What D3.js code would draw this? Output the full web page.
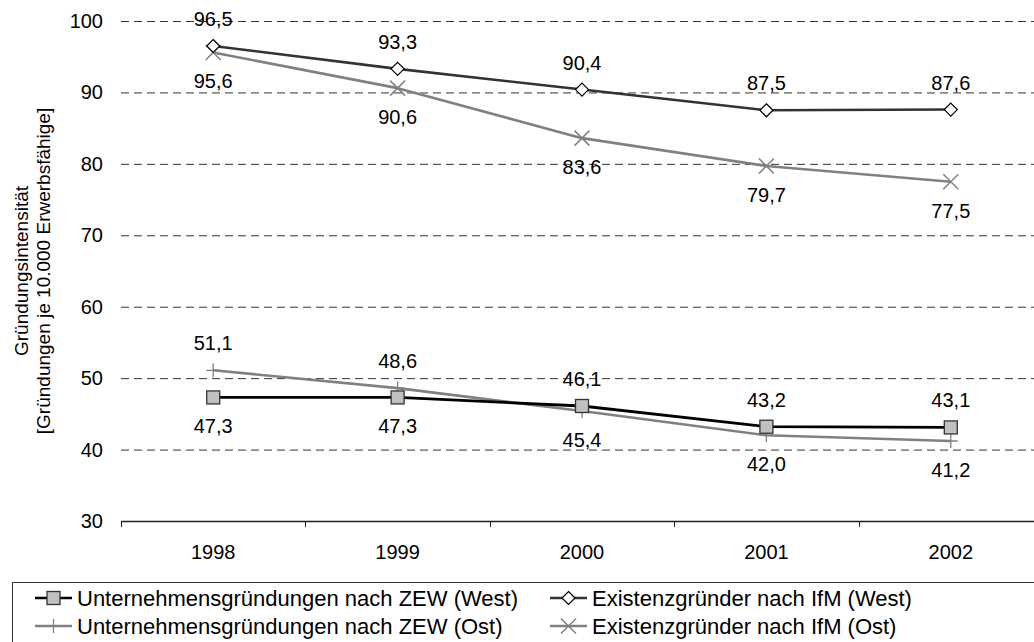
<!DOCTYPE html>
<html>
<head>
<meta charset="utf-8">
<script src="https://cdn.jsdelivr.net/npm/d3@7"></script>
<style>
  body { margin: 0; background: #fff; }
  svg { font-family: "Liberation Sans", Arial, sans-serif; }
</style>
</head>
<body>
<svg width="1034" height="642"></svg>
<script>
// data
var years = ['1998', '1999', '2000', '2001', '2002'];
var yTicks = [30, 40, 50, 60, 70, 80, 90, 100];

var zewWest = [47.3, 47.3, 46.1, 43.2, 43.1];
var zewOst = [51.1, 48.6, 45.4, 42.0, 41.2];
var ifmWest = [96.5, 93.3, 90.4, 87.5, 87.6];
var ifmOst = [95.6, 90.6, 83.6, 79.7, 77.5];

// where each value label sits relative to its point
var zewWestLabelPos = ['below', 'below', 'above', 'above', 'above'];
var zewOstLabelPos = ['above', 'above', 'below', 'below', 'below'];
var ifmWestLabelPos = ['above', 'above', 'above', 'above', 'above'];
var ifmOstLabelPos = ['below', 'below', 'below', 'below', 'below'];

var seriesNames = [
    'Unternehmensgründungen nach ZEW (West)',
    'Existenzgründer nach IfM (West)',
    'Unternehmensgründungen nach ZEW (Ost)',
    'Existenzgründer nach IfM (Ost)'
];

var svg = d3.select('svg');

var plot = {l: 121, r: 1043, t: 21, b: 521};
var numSize = 20;

var x = d3.scaleBand()
    .domain(years)
    .range([plot.l, plot.r])
    .padding(0);

var y = d3.scaleLinear()
    .domain([30, 100])
    .range([plot.b, plot.t]);

var fmt = function(v) { return d3.format('.1f')(v).replace('.', ','); };

// grid lines (dashed)
svg.append('g')
    .selectAll('line')
    .data(yTicks.filter(function(d) { return d > 30; }))
    .enter()
    .append('line')
    .attr('x1', plot.l)
    .attr('x2', plot.r)
    .attr('y1', function(d) { return y(d) + 0.5; })
    .attr('y2', function(d) { return y(d) + 0.5; })
    .attr('stroke', '#333')
    .attr('stroke-width', 1)
    .attr('stroke-dasharray', '8,5');

// y tick labels
svg.append('g')
    .selectAll('text')
    .data(yTicks)
    .enter()
    .append('text')
    .attr('x', 103)
    .attr('y', function(d) { return y(d) + 7; })
    .attr('text-anchor', 'end')
    .attr('font-size', numSize)
    .text(function(d) { return d; });

// x axis line + boundary ticks
svg.append('line')
    .attr('x1', plot.l)
    .attr('x2', plot.r)
    .attr('y1', plot.b + 0.5)
    .attr('y2', plot.b + 0.5)
    .attr('stroke', '#222')
    .attr('stroke-width', 1.3);

var boundaries = years.map(function(d) { return x(d); }).concat([x(years[years.length - 1]) + x.bandwidth()]);
svg.append('g')
    .selectAll('line')
    .data(boundaries)
    .enter()
    .append('line')
    .attr('x1', function(d) { return Math.round(d) + 0.5; })
    .attr('x2', function(d) { return Math.round(d) + 0.5; })
    .attr('y1', plot.b)
    .attr('y2', plot.b + 6)
    .attr('stroke', '#222')
    .attr('stroke-width', 1);

svg.append('g')
    .selectAll('text')
    .data(years)
    .enter()
    .append('text')
    .attr('x', function(d) { return x(d) + x.bandwidth() / 2; })
    .attr('y', 559)
    .attr('text-anchor', 'middle')
    .attr('font-size', numSize)
    .text(function(d) { return d; });

// y axis title
var yTitle = svg.append('text')
    .attr('transform', 'translate(' + [28, 271] + ') rotate(-90)')
    .attr('text-anchor', 'middle')
    .attr('font-size', 19);
yTitle.append('tspan').attr('x', 0).attr('dy', 0).text('Gründungsintensität');
yTitle.append('tspan').attr('x', 0).attr('dy', 22).text('[Gründungen je 10.000 Erwerbsfähige]');

var cx = function(i) { return x(years[i]) + x.bandwidth() / 2; };

var line = d3.line()
    .x(function(d, i) { return cx(i); })
    .y(function(d) { return y(d); });

// symbol helpers
function drawSquare(g, px, py) {
    g.append('rect')
        .attr('x', px - 6.5).attr('y', py - 6.5)
        .attr('width', 13).attr('height', 13)
        .attr('fill', '#c0c0c0')
        .attr('stroke', '#333')
        .attr('stroke-width', 1.3);
}
function drawPlus(g, px, py) {
    g.append('path')
        .attr('d', 'M' + (px - 7) + ',' + py + 'H' + (px + 7) + 'M' + px + ',' + (py - 7) + 'V' + (py + 7))
        .attr('stroke', '#808080')
        .attr('stroke-width', 1.3)
        .attr('fill', 'none');
}
function drawDiamond(g, px, py) {
    g.append('path')
        .attr('d', 'M' + px + ',' + (py - 6.5) + 'L' + (px + 6.5) + ',' + py + 'L' + px + ',' + (py + 6.5) + 'L' + (px - 6.5) + ',' + py + 'Z')
        .attr('fill', '#fff')
        .attr('stroke', '#000')
        .attr('stroke-width', 1.2);
}
function drawCross(g, px, py) {
    g.append('path')
        .attr('d', 'M' + (px - 7.5) + ',' + (py - 7.5) + 'L' + (px + 7.5) + ',' + (py + 7.5) + 'M' + (px + 7.5) + ',' + (py - 7.5) + 'L' + (px - 7.5) + ',' + (py + 7.5))
        .attr('stroke', '#808080')
        .attr('stroke-width', 1.5)
        .attr('fill', 'none');
}

var series = [
    {values: zewOst, pos: zewOstLabelPos, color: '#808080', width: 2.6, sym: drawPlus},
    {values: ifmOst, pos: ifmOstLabelPos, color: '#808080', width: 2.6, sym: drawCross},
    {values: zewWest, pos: zewWestLabelPos, color: '#000', width: 2.8, sym: drawSquare},
    {values: ifmWest, pos: ifmWestLabelPos, color: '#333', width: 2.6, sym: drawDiamond}
];

series.forEach(function(s) {
    var g = svg.append('g');
    g.append('path')
        .datum(s.values)
        .attr('d', line)
        .attr('fill', 'none')
        .attr('stroke', s.color)
        .attr('stroke-width', s.width)
        .attr('stroke-linejoin', 'round');
    s.values.forEach(function(v, i) {
        s.sym(g, cx(i), y(v));
    });
});

// value labels on top
series.forEach(function(s) {
    svg.append('g')
        .selectAll('text')
        .data(s.values)
        .enter()
        .append('text')
        .attr('x', function(d, i) { return cx(i); })
        .attr('y', function(d, i) { return s.pos[i] === 'above' ? y(d) - 20 : y(d) + 36; })
        .attr('text-anchor', 'middle')
        .attr('font-size', numSize)
        .text(function(d) { return fmt(d); });
});

// legend
svg.append('rect')
    .attr('x', 12.5)
    .attr('y', 582.5)
    .attr('width', 1100)
    .attr('height', 100)
    .attr('fill', 'none')
    .attr('stroke', '#333')
    .attr('stroke-width', 1);

var legendItems = [
    {name: seriesNames[0], color: '#000', sym: drawSquare, lx: 35, ly: 598},
    {name: seriesNames[1], color: '#333', sym: drawDiamond, lx: 550, ly: 598},
    {name: seriesNames[2], color: '#808080', sym: drawPlus, lx: 35, ly: 626},
    {name: seriesNames[3], color: '#808080', sym: drawCross, lx: 550, ly: 626}
];

legendItems.forEach(function(d) {
    var g = svg.append('g');
    g.append('line')
        .attr('x1', d.lx).attr('x2', d.lx + 37)
        .attr('y1', d.ly).attr('y2', d.ly)
        .attr('stroke', d.color)
        .attr('stroke-width', 2.6);
    d.sym(g, d.lx + 18.5, d.ly);
    g.append('text')
        .attr('x', d.lx + 42)
        .attr('y', d.ly + 8)
        .attr('font-size', 22)
        .text(d.name);
});
</script>
</body>
</html>
